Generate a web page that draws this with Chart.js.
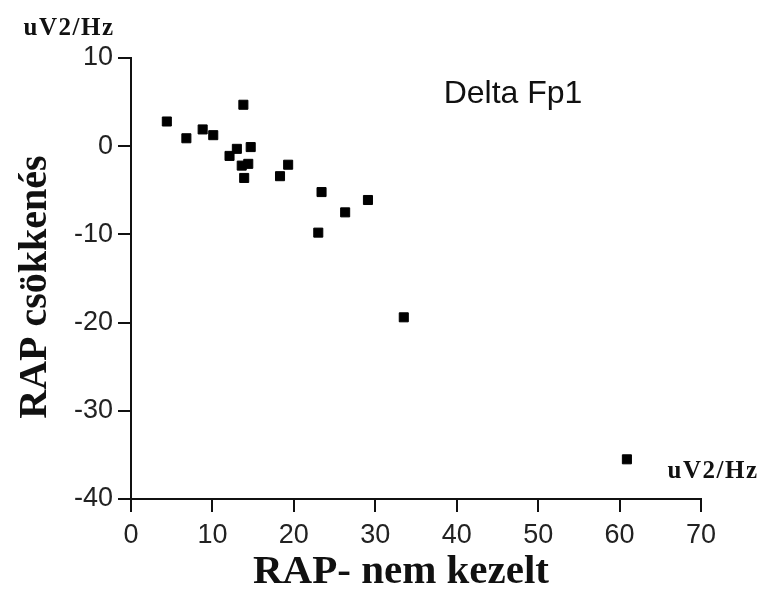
<!DOCTYPE html>
<html>
<head>
<meta charset="utf-8">
<script src="https://cdn.jsdelivr.net/npm/chart.js@4"></script>
<style>
  html, body { margin: 0; padding: 0; background: #fff; }
  #wrap { width: 761px; height: 595px; }
</style>
</head>
<body>
<div id="wrap"><canvas id="rapChart"></canvas></div>
<script>
// RAP values
const rapNemKezelt = [4.4, 6.8, 8.8, 10.1, 13.8, 13.0, 14.7, 12.1, 13.6, 14.4, 13.9, 19.3, 18.3, 23.4, 29.1, 26.3, 23.0, 33.5, 60.9];
const rapCsokkenes = [2.8, 0.9, 1.9, 1.25, 4.7, -0.3, -0.1, -1.1, -2.2, -2.0, -3.6, -2.1, -3.4, -5.2, -6.1, -7.5, -9.8, -19.4, -35.5];

const xTicks = [0, 10, 20, 30, 40, 50, 60, 70];
const yTicks = [10, 0, -10, -20, -30, -40];

const chartTitle = 'Delta Fp1';
const xTitle = 'RAP- nem kezelt';
const yTitle = 'RAP csökkenés';
const unitLabel = 'uV2/Hz';

const getPoints = function (xs, ys) {
    let pts = [];
    for (var i = 0; i < xs.length; i++) {
        pts.push({x: xs[i], y: ys[i]});
    }
    return pts;
};

const serif = '"Liberation Serif", "Times New Roman", serif';
const sans = '"Liberation Sans", Arial, sans-serif';

// titles and unit captions drawn around the plot
const textPlugin = {
    id: 'extraText',
    afterDraw(chart) {
        const ctx = chart.ctx;
        const area = chart.chartArea;
        ctx.save();
        ctx.fillStyle = '#111';
        ctx.textAlign = 'center';
        ctx.textBaseline = 'alphabetic';

        ctx.font = '32px ' + sans;
        ctx.fillText(chartTitle, 513, 103);

        ctx.font = 'bold 41px ' + serif;
        ctx.fillText(xTitle, 401, 583);

        ctx.save();
        ctx.translate(46, 287);
        ctx.rotate(-Math.PI / 2);
        ctx.font = 'bold 40px ' + serif;
        ctx.fillText(yTitle, 0, 0);
        ctx.restore();

        ctx.font = 'bold 25px ' + serif;
        ctx.letterSpacing = '1.5px';
        ctx.fillText(unitLabel, 69, 35);
        ctx.fillText(unitLabel, 713, 478);
        ctx.restore();
    }
};

const axisGrid = {drawOnChartArea: false, drawTicks: true, tickLength: 13, color: '#111', lineWidth: 2};
const axisBorder = {color: '#111', width: 2};

new Chart(document.getElementById('rapChart'), {
    type: 'scatter',
    data: {
        datasets: [{
            label: chartTitle,
            data: getPoints(rapNemKezelt, rapCsokkenes),
            backgroundColor: '#000',
            borderColor: '#000',
            pointStyle: 'rect',
            pointRadius: 6.4,
            pointHoverRadius: 6.4
        }]
    },
    options: {
        responsive: true,
        maintainAspectRatio: false,
        animation: false,
        layout: {padding: {top: 58, right: 60}},
        plugins: {legend: {display: false}, tooltip: {enabled: false}},
        scales: {
            x: {
                type: 'linear',
                min: 0, max: 70,
                grid: axisGrid,
                border: axisBorder,
                afterBuildTicks: (s) => { s.ticks = xTicks.map(v => ({value: v})); },
                afterFit: (s) => { s.height = 96; },
                ticks: {color: '#222', font: {size: 27, family: sans}, padding: 7, maxRotation: 0}
            },
            y: {
                type: 'linear',
                min: -40, max: 10,
                grid: axisGrid,
                border: axisBorder,
                afterBuildTicks: (s) => { s.ticks = yTicks.map(v => ({value: v})); },
                afterFit: (s) => { s.width = 131; },
                ticks: {color: '#222', font: {size: 27, family: sans}, padding: 5}
            }
        }
    },
    plugins: [textPlugin]
});
</script>
</body>
</html>
